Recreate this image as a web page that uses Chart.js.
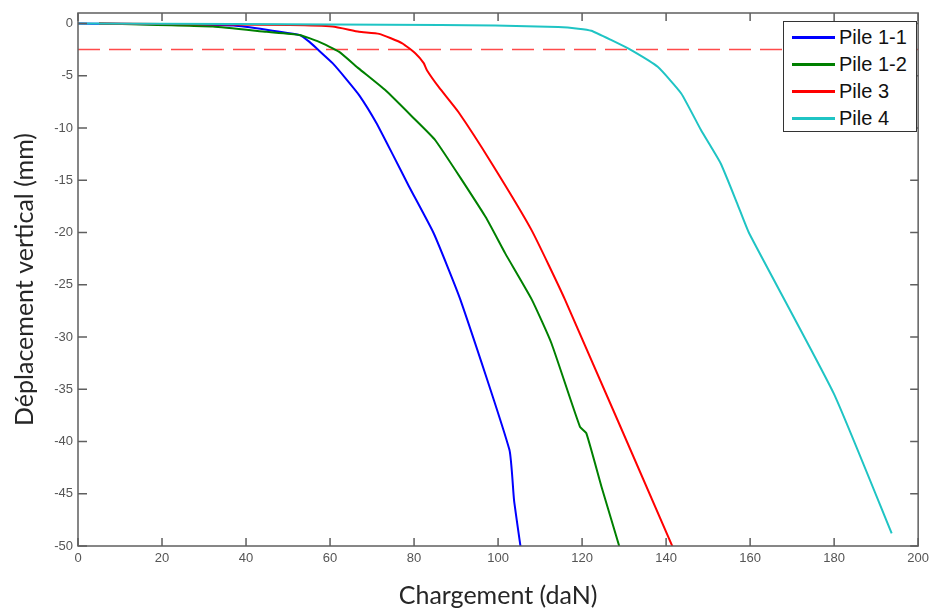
<!DOCTYPE html>
<html>
<head>
<meta charset="utf-8">
<script src="https://cdn.jsdelivr.net/npm/chart.js@4.4.1/dist/chart.umd.min.js"></script>
<style>
  html, body { margin: 0; padding: 0; background: #fff; }
  #wrap { position: relative; width: 934px; height: 608px; }
  #legend {
    position: absolute; left: 783px; top: 21px; width: 132px; height: 109px;
    background: #fff; border: 1px solid #333; box-sizing: content-box;
    font-family: 'Liberation Sans', Arial, sans-serif; font-size: 20px; color: #111;
  }
  .row { position: absolute; left: 8px; height: 26px; display: flex; align-items: center; }
  .swatch { width: 43px; height: 3px; margin-right: 4px; }
</style>
</head>
<body>
<div id="wrap">
  <canvas id="c" width="934" height="608"></canvas>
  <div id="legend"></div>
</div>
<script>
'use strict';

// Pile 1-1 (bleu)
const pile11X = [0, 37, 52.7, 55.1, 57.1, 60.6, 63.8, 67.0, 71.0, 75.0, 78.8, 84.7, 91.0, 102.7, 103.8, 105.5];
const pile11Y = [0, -0.2, -1.1, -1.76, -2.5, -3.8, -5.3, -6.9, -9.5, -12.6, -15.6, -20.1, -26.4, -40.8, -45.6, -50.5];

// Pile 1-2 (vert)
const pile12X = [5, 32.1, 44.9, 52.7, 57.4, 62.1, 66.8, 73.2, 79.5, 85.1, 97.0, 101.7, 108.0, 112.7, 119.5, 121.0, 124.6, 129.2];
const pile12Y = [0, -0.3, -0.8, -1.1, -1.76, -2.7, -4.3, -6.4, -8.9, -11.2, -18.5, -22.0, -26.4, -30.6, -38.6, -39.2, -44.3, -50.5];

// Pile 3 (rouge)
const pile3X = [5, 50.4, 60.6, 66.9, 71.7, 77.2, 80.4, 82.3, 83.1, 85.9, 90.6, 98.5, 108.0, 115.9, 142.0];
const pile3Y = [0, -0.16, -0.3, -0.8, -1.0, -1.9, -2.9, -3.8, -4.5, -6.1, -8.5, -13.4, -19.8, -26.4, -50.5];

// Pile 4 (cyan)
const pile4X = [0, 73.3, 99.3, 114.3, 119.1, 122.2, 127.0, 131.7, 138.0, 143.6, 148.3, 153.0, 157.0, 159.8, 179.9, 193.7];
const pile4Y = [0, -0.13, -0.2, -0.35, -0.5, -0.7, -1.6, -2.55, -4.15, -6.7, -10.2, -13.4, -17.3, -20.1, -35.4, -48.8];

// seuil horizontal (pointillé rouge)
const seuilX = [0, 200];
const seuilY = [-2.5, -2.5];

const NAMES  = ['Pile 1-1', 'Pile 1-2', 'Pile 3', 'Pile 4'];
const COLORS = ['#0000ff', '#008000', '#ff0000', '#1fc4c4'];

const Y_TICKS = [-50, -45, -40, -35, -30, -25, -20, -15, -10, -5, 0];

const pts = (xs, ys) => xs.map((x, i) => ({ x, y: ys[i] }));

function curve(i, xs, ys) {
  return {
    label: NAMES[i],
    data: pts(xs, ys),
    borderColor: COLORS[i],
    borderWidth: 2,
    pointRadius: 0,
    tension: 0.15,
    order: 3 - i, // bleu dessous, cyan dessus
  };
}

// cadre + graduations vers l'intérieur (style MATLAB)
const boxTicks = {
  id: 'boxTicks',
  afterDatasetsDraw(chart) {
    const { ctx, chartArea: a, scales: { x, y } } = chart;
    ctx.save();
    ctx.strokeStyle = '#5f5f5f';
    ctx.lineWidth = 1.5;
    ctx.strokeRect(a.left, a.top, a.right - a.left, a.bottom - a.top);
    ctx.beginPath();
    x.ticks.forEach(t => {
      const px = x.getPixelForValue(t.value);
      ctx.moveTo(px, a.bottom); ctx.lineTo(px, a.bottom - 8);
      ctx.moveTo(px, a.top);    ctx.lineTo(px, a.top + 8);
    });
    y.ticks.forEach(t => {
      const py = y.getPixelForValue(t.value);
      ctx.moveTo(a.left, py);  ctx.lineTo(a.left + 9, py);
      ctx.moveTo(a.right, py); ctx.lineTo(a.right - 8, py);
    });
    ctx.stroke();
    ctx.restore();
  },
};

new Chart(document.getElementById('c'), {
  type: 'line',
  data: {
    datasets: [
      curve(0, pile11X, pile11Y),
      curve(1, pile12X, pile12Y),
      curve(2, pile3X, pile3Y),
      curve(3, pile4X, pile4Y),
      {
        label: 'seuil',
        data: pts(seuilX, seuilY),
        borderColor: '#ff4a4a',
        borderWidth: 1.5,
        borderDash: [22, 9],
        pointRadius: 0,
        order: 5,
      },
    ],
  },
  options: {
    responsive: false,
    animation: false,
    layout: { padding: { left: 0, top: 13, right: 12, bottom: 0 } },
    plugins: { legend: { display: false }, tooltip: { enabled: false } },
    scales: {
      x: {
        type: 'linear',
        min: 0, max: 200,
        border: { display: false },
        grid: { display: false, drawTicks: false },
        ticks: {
          stepSize: 20,
          padding: 5,
          color: '#555',
          font: { family: "'Liberation Sans', Arial, sans-serif", size: 13 },
        },
        title: {
          display: true,
          text: 'Chargement (daN)',
          color: '#262626',
          font: { family: 'Lato, sans-serif', size: 25, lineHeight: 1 },
          padding: { top: 0, bottom: 0 },
        },
        afterFit: s => { s.height = 62; },
      },
      y: {
        type: 'linear',
        min: -50, max: 1,
        border: { display: false },
        grid: { display: false, drawTicks: false },
        afterBuildTicks: s => { s.ticks = Y_TICKS.map(v => ({ value: v })); },
        ticks: {
          padding: 5,
          color: '#555',
          font: { family: "'Liberation Sans', Arial, sans-serif", size: 13 },
        },
        title: {
          display: true,
          text: 'Déplacement vertical (mm)',
          color: '#262626',
          font: { family: 'Lato, sans-serif', size: 25, lineHeight: 1 },
          padding: { top: 12, bottom: 0 },
        },
        afterFit: s => { s.width = 78; },
      },
    },
  },
  plugins: [boxTicks],
});

// légende HTML dans le coin
document.getElementById('legend').innerHTML = NAMES.map((n, i) =>
  `<div class="row" style="top:${2 + i * 27}px">
     <span class="swatch" style="background:${COLORS[i]}"></span><span>${n}</span>
   </div>`).join('');
</script>
</body>
</html>
